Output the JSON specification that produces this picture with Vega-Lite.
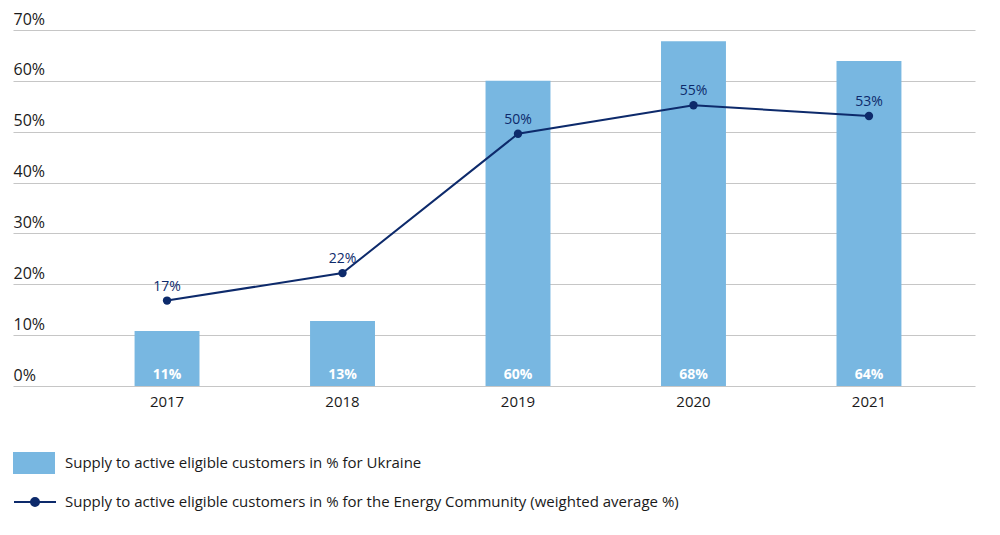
{
  "$schema": "https://vega.github.io/schema/vega-lite/v6.json",
  "width": 962,
  "height": 356,
  "autosize": "none",
  "padding": {"left": 13, "top": 30, "right": 25, "bottom": 149},
  "background": "white",
  "config": {
    "font": "Open Sans",
    "view": {"stroke": null}
  },
  "data": {
    "values": [
      {"year": "2017", "ukraine": 10.8, "ukraineLabel": "11%", "ec": 16.8, "ecLabel": "17%"},
      {"year": "2018", "ukraine": 12.8, "ukraineLabel": "13%", "ec": 22.2, "ecLabel": "22%"},
      {"year": "2019", "ukraine": 60.0, "ukraineLabel": "60%", "ec": 49.6, "ecLabel": "50%"},
      {"year": "2020", "ukraine": 67.8, "ukraineLabel": "68%", "ec": 55.2, "ecLabel": "55%"},
      {"year": "2021", "ukraine": 63.9, "ukraineLabel": "64%", "ec": 53.1, "ecLabel": "53%"}
    ]
  },
  "encoding": {
    "x": {
      "field": "year",
      "type": "ordinal",
      "title": null,
      "scale": {"paddingInner": 0.63, "paddingOuter": 0.556, "align": 0.623},
      "axis": {
        "labelAngle": 0,
        "ticks": false,
        "domain": false,
        "labelFont": "Open Sans",
        "labelFontSize": 15,
        "labelColor": "#1a1a1a",
        "labelPadding": 8
      }
    }
  },
  "layer": [
    {
      "mark": {"type": "bar", "color": "#78b7e1"},
      "encoding": {
        "y": {
          "field": "ukraine",
          "type": "quantitative",
          "title": null,
          "scale": {"domain": [0, 70], "nice": false},
          "axis": {
            "values": [0, 10, 20, 30, 40, 50, 60, 70],
            "labelExpr": "datum.value + '%'",
            "orient": "left",
            "ticks": false,
            "domain": false,
            "labelAlign": "left",
            "labelBaseline": "alphabetic",
            "labelOffset": -6,
            "labelPadding": 0,
            "labelFont": "Open Sans",
            "labelFontSize": 16,
            "labelColor": "#1a1a1a",
            "grid": true,
            "gridColor": "#c6c6c6",
            "gridWidth": 1.2
          }
        },
        "fill": {
          "datum": "Supply to active eligible customers in % for Ukraine",
          "scale": {"range": ["#78b7e1"]},
          "legend": {
            "title": null,
            "orient": "none",
            "legendX": 0,
            "legendY": 412,
            "symbolType": "M-1,-0.524H1V0.524H-1Z",
            "symbolSize": 1764,
            "symbolStrokeWidth": 0,
            "labelFont": "Open Sans",
            "labelFontSize": 15,
            "labelColor": "#1a1a1a",
            "labelOffset": 10,
            "labelLimit": 0
          }
        }
      }
    },
    {
      "mark": {"type": "text", "color": "white", "fontWeight": "bold", "fontSize": 14, "baseline": "middle", "dy": -11},
      "encoding": {
        "y": {"datum": 0, "type": "quantitative"},
        "text": {"field": "ukraineLabel"}
      }
    },
    {
      "mark": {"type": "line", "color": "#0d2a6b", "strokeWidth": 2},
      "encoding": {
        "y": {"field": "ec", "type": "quantitative"},
        "stroke": {
          "datum": "Supply to active eligible customers in % for the Energy Community (weighted average %)",
          "scale": {"range": ["#0d2a6b"]},
          "legend": {
            "title": null,
            "orient": "none",
            "legendX": 0,
            "legendY": 450,
            "symbolType": "M-1,0H1M-0.19,0A0.19,0.19 0 1,0 0.19,0A0.19,0.19 0 1,0 -0.19,0Z",
            "symbolSize": 1764,
            "symbolStrokeWidth": 2,
            "symbolFillColor": "#0d2a6b",
            "labelFont": "Open Sans",
            "labelFontSize": 15,
            "labelColor": "#1a1a1a",
            "labelOffset": 8,
            "labelLimit": 0
          }
        }
      }
    },
    {
      "mark": {"type": "point", "filled": true, "color": "#0d2a6b", "size": 70, "opacity": 1},
      "encoding": {
        "y": {"field": "ec", "type": "quantitative"}
      }
    },
    {
      "mark": {"type": "text", "color": "#0d2a6b", "fontSize": 14, "baseline": "middle", "dy": -14},
      "encoding": {
        "y": {"field": "ec", "type": "quantitative"},
        "text": {"field": "ecLabel"}
      }
    }
  ]
}
